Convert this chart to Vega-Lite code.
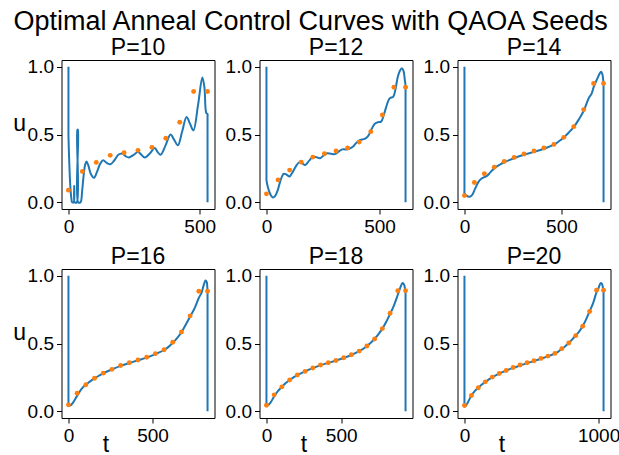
{
  "$schema": "https://vega.github.io/schema/vega-lite/v6.json",
  "title": {"text": "Optimal Anneal Control Curves with QAOA Seeds", "fontSize": 27, "anchor": "middle", "dx": -5.6, "offset": 0.5},
  "padding": {"left": 11.5, "top": 7, "right": 0, "bottom": 0},
  "bounds": "flush",
  "columns": 3,
  "spacing": {"row": 60, "column": 45},
  "datasets": {
    "curves": [
      {"P":10,"i":0,"t":0,"u":1.0},{"P":10,"i":1,"t":0,"u":0.55},{"P":10,"i":2,"t":0,"u":0.5},{"P":10,"i":3,"t":3,"u":0.3},{"P":10,"i":4,"t":7,"u":0.12},{"P":10,"i":5,"t":11,"u":0.03},{"P":10,"i":6,"t":14,"u":0},{"P":10,"i":7,"t":20,"u":0},{"P":10,"i":8,"t":22,"u":0.12},{"P":10,"i":9,"t":24,"u":0},{"P":10,"i":10,"t":32,"u":0},{"P":10,"i":11,"t":34,"u":0.535},{"P":10,"i":12,"t":36,"u":0.535},{"P":10,"i":13,"t":37,"u":0},{"P":10,"i":14,"t":46,"u":0},{"P":10,"i":15,"t":52,"u":0.08},{"P":10,"i":16,"t":58,"u":0.2},{"P":10,"i":17,"t":64,"u":0.28},{"P":10,"i":18,"t":69,"u":0.30},{"P":10,"i":19,"t":76,"u":0.27},{"P":10,"i":20,"t":85,"u":0.21},{"P":10,"i":21,"t":97,"u":0.18},{"P":10,"i":22,"t":108,"u":0.22},{"P":10,"i":23,"t":120,"u":0.28},{"P":10,"i":24,"t":132,"u":0.31},{"P":10,"i":25,"t":146,"u":0.29},{"P":10,"i":26,"t":160,"u":0.28},{"P":10,"i":27,"t":175,"u":0.31},{"P":10,"i":28,"t":190,"u":0.35},{"P":10,"i":29,"t":205,"u":0.36},{"P":10,"i":30,"t":218,"u":0.34},{"P":10,"i":31,"t":230,"u":0.33},{"P":10,"i":32,"t":248,"u":0.35},{"P":10,"i":33,"t":265,"u":0.37},{"P":10,"i":34,"t":278,"u":0.35},{"P":10,"i":35,"t":290,"u":0.33},{"P":10,"i":36,"t":310,"u":0.36},{"P":10,"i":37,"t":329,"u":0.40},{"P":10,"i":38,"t":340,"u":0.37},{"P":10,"i":39,"t":351,"u":0.35},{"P":10,"i":40,"t":370,"u":0.42},{"P":10,"i":41,"t":389,"u":0.50},{"P":10,"i":42,"t":403,"u":0.46},{"P":10,"i":43,"t":417,"u":0.42},{"P":10,"i":44,"t":433,"u":0.52},{"P":10,"i":45,"t":450,"u":0.63},{"P":10,"i":46,"t":463,"u":0.58},{"P":10,"i":47,"t":476,"u":0.53},{"P":10,"i":48,"t":494,"u":0.72},{"P":10,"i":49,"t":510,"u":0.92},{"P":10,"i":50,"t":518,"u":0.85},{"P":10,"i":51,"t":525,"u":0.66},{"P":10,"i":52,"t":530,"u":0.65},{"P":10,"i":53,"t":530,"u":0.63},{"P":10,"i":54,"t":530,"u":0},
      {"P":12,"i":0,"t":0,"u":1.0},{"P":12,"i":1,"t":0,"u":0.185},{"P":12,"i":2,"t":0,"u":0.165},{"P":12,"i":3,"t":5,"u":0.12},{"P":12,"i":4,"t":12,"u":0.08},{"P":12,"i":5,"t":20,"u":0.05},{"P":12,"i":6,"t":28,"u":0.035},{"P":12,"i":7,"t":38,"u":0.045},{"P":12,"i":8,"t":50,"u":0.09},{"P":12,"i":9,"t":62,"u":0.16},{"P":12,"i":10,"t":76,"u":0.21},{"P":12,"i":11,"t":88,"u":0.205},{"P":12,"i":12,"t":102,"u":0.19},{"P":12,"i":13,"t":115,"u":0.22},{"P":12,"i":14,"t":130,"u":0.265},{"P":12,"i":15,"t":146,"u":0.296},{"P":12,"i":16,"t":160,"u":0.285},{"P":12,"i":17,"t":171,"u":0.275},{"P":12,"i":18,"t":188,"u":0.305},{"P":12,"i":19,"t":205,"u":0.335},{"P":12,"i":20,"t":220,"u":0.333},{"P":12,"i":21,"t":237,"u":0.325},{"P":12,"i":22,"t":252,"u":0.345},{"P":12,"i":23,"t":266,"u":0.36},{"P":12,"i":24,"t":285,"u":0.358},{"P":12,"i":25,"t":303,"u":0.355},{"P":12,"i":26,"t":320,"u":0.375},{"P":12,"i":27,"t":335,"u":0.39},{"P":12,"i":28,"t":350,"u":0.39},{"P":12,"i":29,"t":365,"u":0.395},{"P":12,"i":30,"t":382,"u":0.41},{"P":12,"i":31,"t":398,"u":0.44},{"P":12,"i":32,"t":415,"u":0.46},{"P":12,"i":33,"t":434,"u":0.467},{"P":12,"i":34,"t":450,"u":0.49},{"P":12,"i":35,"t":465,"u":0.54},{"P":12,"i":36,"t":478,"u":0.578},{"P":12,"i":37,"t":492,"u":0.59},{"P":12,"i":38,"t":507,"u":0.595},{"P":12,"i":39,"t":518,"u":0.64},{"P":12,"i":40,"t":529,"u":0.70},{"P":12,"i":41,"t":544,"u":0.765},{"P":12,"i":42,"t":561,"u":0.78},{"P":12,"i":43,"t":570,"u":0.83},{"P":12,"i":44,"t":580,"u":0.92},{"P":12,"i":45,"t":590,"u":0.97},{"P":12,"i":46,"t":599,"u":0.99},{"P":12,"i":47,"t":606,"u":0.97},{"P":12,"i":48,"t":612,"u":0.90},{"P":12,"i":49,"t":615,"u":0.86},{"P":12,"i":50,"t":615,"u":0.84},{"P":12,"i":51,"t":615,"u":0},
      {"P":14,"i":0,"t":0,"u":1.0},{"P":14,"i":1,"t":0,"u":0.087},{"P":14,"i":2,"t":0,"u":0.067},{"P":14,"i":3,"t":10,"u":0.05},{"P":14,"i":4,"t":25,"u":0.04},{"P":14,"i":5,"t":40,"u":0.055},{"P":14,"i":6,"t":55,"u":0.10},{"P":14,"i":7,"t":70,"u":0.145},{"P":14,"i":8,"t":88,"u":0.175},{"P":14,"i":9,"t":102,"u":0.185},{"P":14,"i":10,"t":116,"u":0.195},{"P":14,"i":11,"t":130,"u":0.215},{"P":14,"i":12,"t":153,"u":0.25},{"P":14,"i":13,"t":180,"u":0.275},{"P":14,"i":14,"t":205,"u":0.295},{"P":14,"i":15,"t":256,"u":0.325},{"P":14,"i":16,"t":307,"u":0.35},{"P":14,"i":17,"t":358,"u":0.372},{"P":14,"i":18,"t":410,"u":0.395},{"P":14,"i":19,"t":461,"u":0.425},{"P":14,"i":20,"t":487,"u":0.45},{"P":14,"i":21,"t":512,"u":0.478},{"P":14,"i":22,"t":538,"u":0.515},{"P":14,"i":23,"t":563,"u":0.555},{"P":14,"i":24,"t":589,"u":0.61},{"P":14,"i":25,"t":615,"u":0.675},{"P":14,"i":26,"t":641,"u":0.77},{"P":14,"i":27,"t":655,"u":0.80},{"P":14,"i":28,"t":666,"u":0.85},{"P":14,"i":29,"t":684,"u":0.91},{"P":14,"i":30,"t":697,"u":0.95},{"P":14,"i":31,"t":704,"u":0.963},{"P":14,"i":32,"t":711,"u":0.945},{"P":14,"i":33,"t":716,"u":0.89},{"P":14,"i":34,"t":717,"u":0.877},{"P":14,"i":35,"t":717,"u":0.857},{"P":14,"i":36,"t":717,"u":0},
      {"P":16,"i":0,"t":0,"u":1.0},{"P":16,"i":1,"t":0,"u":0.065},{"P":16,"i":2,"t":0,"u":0.045},{"P":16,"i":3,"t":12,"u":0.043},{"P":16,"i":4,"t":25,"u":0.06},{"P":16,"i":5,"t":52,"u":0.115},{"P":16,"i":6,"t":78,"u":0.165},{"P":16,"i":7,"t":103,"u":0.195},{"P":16,"i":8,"t":129,"u":0.22},{"P":16,"i":9,"t":155,"u":0.242},{"P":16,"i":10,"t":181,"u":0.262},{"P":16,"i":11,"t":207,"u":0.28},{"P":16,"i":12,"t":258,"u":0.308},{"P":16,"i":13,"t":310,"u":0.335},{"P":16,"i":14,"t":362,"u":0.356},{"P":16,"i":15,"t":414,"u":0.376},{"P":16,"i":16,"t":465,"u":0.396},{"P":16,"i":17,"t":517,"u":0.422},{"P":16,"i":18,"t":569,"u":0.452},{"P":16,"i":19,"t":595,"u":0.475},{"P":16,"i":20,"t":620,"u":0.505},{"P":16,"i":21,"t":646,"u":0.54},{"P":16,"i":22,"t":672,"u":0.583},{"P":16,"i":23,"t":698,"u":0.64},{"P":16,"i":24,"t":724,"u":0.70},{"P":16,"i":25,"t":750,"u":0.76},{"P":16,"i":26,"t":776,"u":0.84},{"P":16,"i":27,"t":790,"u":0.87},{"P":16,"i":28,"t":803,"u":0.925},{"P":16,"i":29,"t":815,"u":0.965},{"P":16,"i":30,"t":822,"u":0.955},{"P":16,"i":31,"t":826,"u":0.91},{"P":16,"i":32,"t":827,"u":0.886},{"P":16,"i":33,"t":827,"u":0.866},{"P":16,"i":34,"t":827,"u":0},
      {"P":18,"i":0,"t":0,"u":1.0},{"P":18,"i":1,"t":0,"u":0.06},{"P":18,"i":2,"t":0,"u":0.04},{"P":18,"i":3,"t":10,"u":0.045},{"P":18,"i":4,"t":25,"u":0.06},{"P":18,"i":5,"t":52,"u":0.11},{"P":18,"i":6,"t":78,"u":0.15},{"P":18,"i":7,"t":103,"u":0.18},{"P":18,"i":8,"t":129,"u":0.208},{"P":18,"i":9,"t":155,"u":0.23},{"P":18,"i":10,"t":181,"u":0.25},{"P":18,"i":11,"t":207,"u":0.267},{"P":18,"i":12,"t":259,"u":0.294},{"P":18,"i":13,"t":310,"u":0.318},{"P":18,"i":14,"t":362,"u":0.34},{"P":18,"i":15,"t":414,"u":0.357},{"P":18,"i":16,"t":466,"u":0.374},{"P":18,"i":17,"t":517,"u":0.393},{"P":18,"i":18,"t":569,"u":0.415},{"P":18,"i":19,"t":621,"u":0.443},{"P":18,"i":20,"t":672,"u":0.48},{"P":18,"i":21,"t":698,"u":0.505},{"P":18,"i":22,"t":724,"u":0.535},{"P":18,"i":23,"t":750,"u":0.57},{"P":18,"i":24,"t":776,"u":0.61},{"P":18,"i":25,"t":802,"u":0.66},{"P":18,"i":26,"t":828,"u":0.72},{"P":18,"i":27,"t":853,"u":0.78},{"P":18,"i":28,"t":879,"u":0.86},{"P":18,"i":29,"t":895,"u":0.91},{"P":18,"i":30,"t":911,"u":0.946},{"P":18,"i":31,"t":921,"u":0.935},{"P":18,"i":32,"t":928,"u":0.90},{"P":18,"i":33,"t":931,"u":0.885},{"P":18,"i":34,"t":931,"u":0.865},{"P":18,"i":35,"t":931,"u":0},
      {"P":20,"i":0,"t":0,"u":1.0},{"P":20,"i":1,"t":0,"u":0.055},{"P":20,"i":2,"t":0,"u":0.035},{"P":20,"i":3,"t":10,"u":0.04},{"P":20,"i":4,"t":25,"u":0.065},{"P":20,"i":5,"t":52,"u":0.115},{"P":20,"i":6,"t":78,"u":0.15},{"P":20,"i":7,"t":104,"u":0.175},{"P":20,"i":8,"t":130,"u":0.198},{"P":20,"i":9,"t":156,"u":0.217},{"P":20,"i":10,"t":182,"u":0.235},{"P":20,"i":11,"t":207,"u":0.25},{"P":20,"i":12,"t":259,"u":0.277},{"P":20,"i":13,"t":311,"u":0.30},{"P":20,"i":14,"t":363,"u":0.32},{"P":20,"i":15,"t":415,"u":0.338},{"P":20,"i":16,"t":467,"u":0.355},{"P":20,"i":17,"t":519,"u":0.37},{"P":20,"i":18,"t":570,"u":0.387},{"P":20,"i":19,"t":622,"u":0.405},{"P":20,"i":20,"t":674,"u":0.426},{"P":20,"i":21,"t":700,"u":0.44},{"P":20,"i":22,"t":726,"u":0.46},{"P":20,"i":23,"t":752,"u":0.48},{"P":20,"i":24,"t":778,"u":0.505},{"P":20,"i":25,"t":804,"u":0.53},{"P":20,"i":26,"t":830,"u":0.56},{"P":20,"i":27,"t":856,"u":0.59},{"P":20,"i":28,"t":882,"u":0.63},{"P":20,"i":29,"t":908,"u":0.68},{"P":20,"i":30,"t":934,"u":0.74},{"P":20,"i":31,"t":960,"u":0.80},{"P":20,"i":32,"t":985,"u":0.88},{"P":20,"i":33,"t":1000,"u":0.91},{"P":20,"i":34,"t":1015,"u":0.946},{"P":20,"i":35,"t":1025,"u":0.94},{"P":20,"i":36,"t":1033,"u":0.91},{"P":20,"i":37,"t":1037,"u":0.89},{"P":20,"i":38,"t":1037,"u":0.87},{"P":20,"i":39,"t":1037,"u":0}
    ],
    "seeds": [
      {"P":10,"t":0,"u":0.089},{"P":10,"t":53,"u":0.227},{"P":10,"t":106,"u":0.294},{"P":10,"t":159,"u":0.346},{"P":10,"t":212,"u":0.365},{"P":10,"t":265,"u":0.383},{"P":10,"t":318,"u":0.405},{"P":10,"t":371,"u":0.472},{"P":10,"t":424,"u":0.59},{"P":10,"t":477,"u":0.817},{"P":10,"t":530,"u":0.817},
      {"P":12,"t":0,"u":0.062},{"P":12,"t":51.25,"u":0.165},{"P":12,"t":102.5,"u":0.237},{"P":12,"t":153.75,"u":0.296},{"P":12,"t":205,"u":0.333},{"P":12,"t":256.25,"u":0.358},{"P":12,"t":307.5,"u":0.378},{"P":12,"t":358.75,"u":0.4},{"P":12,"t":410,"u":0.444},{"P":12,"t":461.25,"u":0.521},{"P":12,"t":512.5,"u":0.644},{"P":12,"t":563.75,"u":0.849},{"P":12,"t":615,"u":0.849},
      {"P":14,"t":0,"u":0.049},{"P":14,"t":51.2,"u":0.146},{"P":14,"t":102.4,"u":0.21},{"P":14,"t":153.6,"u":0.259},{"P":14,"t":204.9,"u":0.301},{"P":14,"t":256.1,"u":0.331},{"P":14,"t":307.3,"u":0.356},{"P":14,"t":358.5,"u":0.378},{"P":14,"t":409.7,"u":0.4},{"P":14,"t":460.9,"u":0.427},{"P":14,"t":512.1,"u":0.479},{"P":14,"t":563.4,"u":0.558},{"P":14,"t":614.6,"u":0.684},{"P":14,"t":665.8,"u":0.877},{"P":14,"t":717,"u":0.877},
      {"P":16,"t":0,"u":0.047},{"P":16,"t":51.7,"u":0.133},{"P":16,"t":103.4,"u":0.195},{"P":16,"t":155.1,"u":0.244},{"P":16,"t":206.8,"u":0.281},{"P":16,"t":258.4,"u":0.309},{"P":16,"t":310.1,"u":0.338},{"P":16,"t":361.8,"u":0.358},{"P":16,"t":413.5,"u":0.378},{"P":16,"t":465.2,"u":0.398},{"P":16,"t":516.9,"u":0.425},{"P":16,"t":568.6,"u":0.454},{"P":16,"t":620.3,"u":0.509},{"P":16,"t":672,"u":0.585},{"P":16,"t":723.6,"u":0.704},{"P":16,"t":775.3,"u":0.886},{"P":16,"t":827,"u":0.886},
      {"P":18,"t":0,"u":0.044},{"P":18,"t":51.7,"u":0.121},{"P":18,"t":103.4,"u":0.18},{"P":18,"t":155.2,"u":0.23},{"P":18,"t":206.9,"u":0.267},{"P":18,"t":258.6,"u":0.294},{"P":18,"t":310.3,"u":0.319},{"P":18,"t":362.1,"u":0.341},{"P":18,"t":413.8,"u":0.358},{"P":18,"t":465.5,"u":0.375},{"P":18,"t":517.2,"u":0.395},{"P":18,"t":568.9,"u":0.417},{"P":18,"t":620.7,"u":0.444},{"P":18,"t":672.4,"u":0.481},{"P":18,"t":724.1,"u":0.533},{"P":18,"t":775.8,"u":0.61},{"P":18,"t":827.6,"u":0.723},{"P":18,"t":879.3,"u":0.889},{"P":18,"t":931,"u":0.889},
      {"P":20,"t":0,"u":0.042},{"P":20,"t":51.9,"u":0.116},{"P":20,"t":103.7,"u":0.173},{"P":20,"t":155.6,"u":0.217},{"P":20,"t":207.4,"u":0.252},{"P":20,"t":259.3,"u":0.279},{"P":20,"t":311.1,"u":0.301},{"P":20,"t":363,"u":0.323},{"P":20,"t":414.8,"u":0.341},{"P":20,"t":466.7,"u":0.358},{"P":20,"t":518.5,"u":0.373},{"P":20,"t":570.4,"u":0.39},{"P":20,"t":622.2,"u":0.407},{"P":20,"t":674.1,"u":0.427},{"P":20,"t":725.9,"u":0.462},{"P":20,"t":777.8,"u":0.504},{"P":20,"t":829.6,"u":0.558},{"P":20,"t":881.5,"u":0.627},{"P":20,"t":933.3,"u":0.736},{"P":20,"t":985.2,"u":0.894},{"P":20,"t":1037,"u":0.894}
    ]
  },
  "concat": [
    {
      "width": 153, "height": 149, "title": "P=10",
      "encoding": {
        "x": {"field": "t", "type": "quantitative", "scale": {"domain": [-26.5, 556.5], "nice": false, "zero": false}, "axis": {"values": [0, 500], "format": "d", "title": null}},
        "y": {"field": "u", "type": "quantitative", "scale": {"domain": [-0.05, 1.05], "nice": false, "zero": false}, "axis": {"values": [0, 0.5, 1], "format": ".1f", "title": "u", "titleAngle": 0, "titleAlign": "right", "titleBaseline": "alphabetic", "titleX": -36, "titleY": 70}}
      },
      "layer": [
        {"data": {"name": "curves"}, "transform": [{"filter": "datum.P == 10"}], "mark": {"type": "line", "color": "#1f77b4", "strokeWidth": 2, "interpolate": "catmull-rom"}, "encoding": {"order": {"field": "i", "type": "quantitative"}}},
        {"data": {"name": "seeds"}, "transform": [{"filter": "datum.P == 10"}], "mark": {"type": "point", "filled": true, "color": "#ff7f0e", "size": 24, "opacity": 1}}
      ]
    },
    {
      "width": 153, "height": 149, "title": "P=12",
      "encoding": {
        "x": {"field": "t", "type": "quantitative", "scale": {"domain": [-30.75, 645.75], "nice": false, "zero": false}, "axis": {"values": [0, 500], "format": "d", "title": null}},
        "y": {"field": "u", "type": "quantitative", "scale": {"domain": [-0.05, 1.05], "nice": false, "zero": false}, "axis": {"values": [0, 0.5, 1], "format": ".1f", "title": null}}
      },
      "layer": [
        {"data": {"name": "curves"}, "transform": [{"filter": "datum.P == 12"}], "mark": {"type": "line", "color": "#1f77b4", "strokeWidth": 2, "interpolate": "catmull-rom"}, "encoding": {"order": {"field": "i", "type": "quantitative"}}},
        {"data": {"name": "seeds"}, "transform": [{"filter": "datum.P == 12"}], "mark": {"type": "point", "filled": true, "color": "#ff7f0e", "size": 24, "opacity": 1}}
      ]
    },
    {
      "width": 153, "height": 149, "title": "P=14",
      "encoding": {
        "x": {"field": "t", "type": "quantitative", "scale": {"domain": [-35.85, 752.85], "nice": false, "zero": false}, "axis": {"values": [0, 500], "format": "d", "title": null}},
        "y": {"field": "u", "type": "quantitative", "scale": {"domain": [-0.05, 1.05], "nice": false, "zero": false}, "axis": {"values": [0, 0.5, 1], "format": ".1f", "title": null}}
      },
      "layer": [
        {"data": {"name": "curves"}, "transform": [{"filter": "datum.P == 14"}], "mark": {"type": "line", "color": "#1f77b4", "strokeWidth": 2, "interpolate": "catmull-rom"}, "encoding": {"order": {"field": "i", "type": "quantitative"}}},
        {"data": {"name": "seeds"}, "transform": [{"filter": "datum.P == 14"}], "mark": {"type": "point", "filled": true, "color": "#ff7f0e", "size": 24, "opacity": 1}}
      ]
    },
    {
      "width": 153, "height": 149, "title": "P=16",
      "encoding": {
        "x": {"field": "t", "type": "quantitative", "scale": {"domain": [-41.35, 868.35], "nice": false, "zero": false}, "axis": {"values": [0, 500], "format": "d", "title": "t", "titleAlign": "center", "titleBaseline": "alphabetic", "titleX": 44, "titleY": 33}},
        "y": {"field": "u", "type": "quantitative", "scale": {"domain": [-0.05, 1.05], "nice": false, "zero": false}, "axis": {"values": [0, 0.5, 1], "format": ".1f", "title": "u", "titleAngle": 0, "titleAlign": "right", "titleBaseline": "alphabetic", "titleX": -36, "titleY": 70}}
      },
      "layer": [
        {"data": {"name": "curves"}, "transform": [{"filter": "datum.P == 16"}], "mark": {"type": "line", "color": "#1f77b4", "strokeWidth": 2, "interpolate": "catmull-rom"}, "encoding": {"order": {"field": "i", "type": "quantitative"}}},
        {"data": {"name": "seeds"}, "transform": [{"filter": "datum.P == 16"}], "mark": {"type": "point", "filled": true, "color": "#ff7f0e", "size": 24, "opacity": 1}}
      ]
    },
    {
      "width": 153, "height": 149, "title": "P=18",
      "encoding": {
        "x": {"field": "t", "type": "quantitative", "scale": {"domain": [-46.55, 977.55], "nice": false, "zero": false}, "axis": {"values": [0, 500], "format": "d", "title": "t", "titleAlign": "center", "titleBaseline": "alphabetic", "titleX": 44, "titleY": 33}},
        "y": {"field": "u", "type": "quantitative", "scale": {"domain": [-0.05, 1.05], "nice": false, "zero": false}, "axis": {"values": [0, 0.5, 1], "format": ".1f", "title": null}}
      },
      "layer": [
        {"data": {"name": "curves"}, "transform": [{"filter": "datum.P == 18"}], "mark": {"type": "line", "color": "#1f77b4", "strokeWidth": 2, "interpolate": "catmull-rom"}, "encoding": {"order": {"field": "i", "type": "quantitative"}}},
        {"data": {"name": "seeds"}, "transform": [{"filter": "datum.P == 18"}], "mark": {"type": "point", "filled": true, "color": "#ff7f0e", "size": 24, "opacity": 1}}
      ]
    },
    {
      "width": 153, "height": 149, "title": "P=20",
      "encoding": {
        "x": {"field": "t", "type": "quantitative", "scale": {"domain": [-51.85, 1088.85], "nice": false, "zero": false}, "axis": {"values": [0, 1000], "format": "d", "title": "t", "titleAlign": "center", "titleBaseline": "alphabetic", "titleX": 44, "titleY": 33}},
        "y": {"field": "u", "type": "quantitative", "scale": {"domain": [-0.05, 1.05], "nice": false, "zero": false}, "axis": {"values": [0, 0.5, 1], "format": ".1f", "title": null}}
      },
      "layer": [
        {"data": {"name": "curves"}, "transform": [{"filter": "datum.P == 20"}], "mark": {"type": "line", "color": "#1f77b4", "strokeWidth": 2, "interpolate": "catmull-rom"}, "encoding": {"order": {"field": "i", "type": "quantitative"}}},
        {"data": {"name": "seeds"}, "transform": [{"filter": "datum.P == 20"}], "mark": {"type": "point", "filled": true, "color": "#ff7f0e", "size": 24, "opacity": 1}}
      ]
    }
  ],
  "config": {
    "font": "Liberation Sans",
    "background": "white",
    "view": {"stroke": "black", "strokeWidth": 1},
    "title": {"fontSize": 23, "fontWeight": "normal", "color": "black", "baseline": "alphabetic", "offset": -1.8},
    "axis": {"grid": false, "domain": false, "ticks": true, "tickColor": "black", "tickSize": 5, "tickWidth": 1, "labelFontSize": 19, "labelColor": "black", "labelPadding": 3, "labelFlush": false, "labelOverlap": false, "titleFontSize": 23, "titleFontWeight": "normal", "titleColor": "black"}
  }
}
